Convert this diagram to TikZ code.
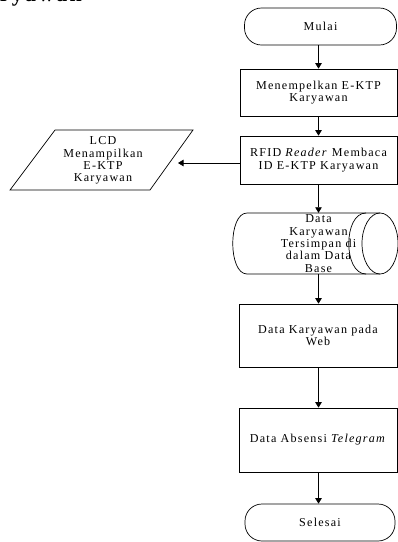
\documentclass[tikz,border=0pt]{standalone}
\usepackage{fontspec}
\setmainfont{Liberation Serif}[LetterSpace=10]
\usetikzlibrary{arrows.meta}
\begin{document}
\begin{tikzpicture}[x=1pt,y=-1pt,
  every node/.style={font=\fontsize{12.1}{12.4}\selectfont},
  proc/.style={draw, line width=0.7pt, align=center, inner sep=0pt},
  term/.style={draw, line width=0.7pt, rounded corners=17pt, inner sep=0pt, minimum width=150pt, minimum height=37pt},
  arr/.style={line width=0.7pt, -{Triangle[length=5.5pt,width=6.5pt]}},
  shp/.style={line width=0.7pt}]
\useasboundingbox (0,0) rectangle (398,542);
\clip (0,0) rectangle (398,542);
% cut-off heading
\node[anchor=base east, inner sep=0pt, font=\fontsize{22}{24}\selectfont\bfseries] (head) at (82,1.5) {Karyawan};
% flow nodes
\node[term, minimum width=152pt] (mulai) at (320.5,26.5) {Mulai};
\node[proc, minimum width=157pt, minimum height=47pt] (b1) at (318.5,92.5) {\\[-4pt]Menempelkan E-KTP\\Karyawan};
\node[proc, minimum width=157pt, minimum height=48pt] (b2) at (318.5,160) {RFID \textit{Reader} Membaca\\ID E-KTP Karyawan};
% database cylinder
\draw[shp] (247,213) .. controls (228,213) and (228,274) .. (247,274) -- (380,274)
  (247,213) -- (380,213);
\draw[shp] (380,243.5) ellipse [x radius=18, y radius=30.5];
\draw[shp] (366,213) .. controls (343,213) and (343,274) .. (366,274);
\node[align=center, inner sep=0pt, minimum height=61pt] (db) at (318.5,243.5) {Data\\Karyawan\\Tersimpan di\\dalam Data\\Base};
\node[proc, minimum width=158pt, minimum height=63pt] (b3) at (318,335.5) {Data Karyawan pada\\Web};
\node[proc, minimum width=158pt, minimum height=64pt] (b4) at (318,440) {Data Absensi \textit{Telegram}};
\node[term] (selesai) at (320,522.5) {Selesai};
% LCD parallelogram
\draw[shp] (10,190) -- (55,130) -- (193,130) -- (150,190) -- cycle;
\node[align=center, inner sep=0pt] (lcd) at (103,160.5) {LCD\\Menampilkan\\E-KTP\\Karyawan};
\coordinate (lcdin) at (178,163);
% connectors
\draw[arr] (mulai.south -| b1) -- (b1.north);
\draw[arr] (b1) -- (b2);
\draw[arr] (b2.south) -- (b2.south |- db.north);
\draw[arr] (b2.south |- db.south) -- (b2.south |- b3.north);
\draw[arr] (b3.south -| b2.south) -- (b2.south |- b4.north);
\draw[arr] (b4.south -| b2.south) -- (b2.south |- selesai.north);
\draw[arr] (b2.west |- lcdin) -- (lcdin);
\end{tikzpicture}
\end{document}
